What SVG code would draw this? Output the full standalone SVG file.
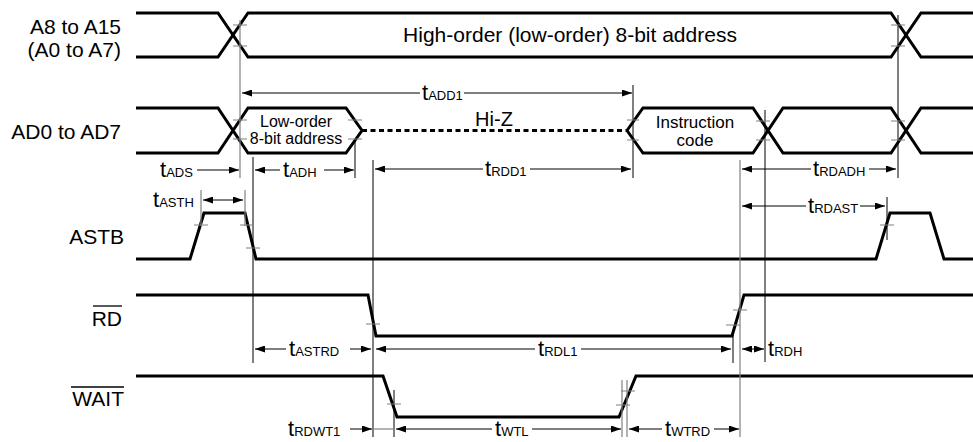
<svg xmlns="http://www.w3.org/2000/svg" width="973" height="442" viewBox="0 0 973 442">
<style>
text{font-family:"Liberation Sans",Arial,sans-serif;fill:#000}
.lbl{font-size:21px;text-anchor:end}
.wave{fill:none;stroke:#000;stroke-width:3;stroke-linejoin:miter}
.ref{stroke:#000;stroke-width:1;fill:none}
.refg{stroke:#808080;stroke-width:1.2;fill:none}
.tick{stroke:#808080;stroke-width:1.2;fill:none}
.dim{stroke:#000;stroke-width:1;fill:none;marker-end:url(#ah)}
.dim2{stroke:#000;stroke-width:1;fill:none;marker-end:url(#ah);marker-start:url(#ahs)}
.t{font-size:22px}
.s{font-size:13px}
</style>
<defs>
<marker id="ah" markerUnits="userSpaceOnUse" markerWidth="10" markerHeight="7" refX="10" refY="3.5" orient="auto"><path d="M0,0 L10,3.5 L0,7 z" fill="#000"/></marker>
<marker id="ahs" markerUnits="userSpaceOnUse" markerWidth="10" markerHeight="7" refX="10" refY="3.5" orient="auto-start-reverse"><path d="M0,0 L10,3.5 L0,7 z" fill="#000"/></marker>
</defs>

<g id="labels">
<text class="lbl" x="121" y="34">A8 to A15</text>
<text class="lbl" x="121" y="57">(A0 to A7)</text>
<text class="lbl" x="121" y="139">AD0 to AD7</text>
<text class="lbl" x="124" y="244">ASTB</text>
<text class="lbl" x="122" y="326">RD</text>
<line x1="93" y1="306" x2="122" y2="306" stroke="#000" stroke-width="1.3"/>
<text class="lbl" x="124" y="406">WAIT</text>
<line x1="71" y1="387" x2="124" y2="387" stroke="#000" stroke-width="1.3"/>
</g>

<g id="addr-high">
<path class="wave" d="M136,13 L218,13 L248,57 L891,57 L921,13 L973,13"/>
<path class="wave" d="M136,57 L218,57 L248,13 L891,13 L921,57 L973,57"/>
<text x="570" y="42" font-size="21" text-anchor="middle">High-order (low-order) 8-bit address</text>
</g>

<g id="ad-bus">
<path class="wave" d="M136,108 L218,108 L248,153 L346,153 L362,130.5 L346,108 L248,108 L218,153 L136,153"/>
<line x1="362" y1="130.5" x2="627" y2="130.5" stroke="#000" stroke-width="3" stroke-dasharray="5,3.5"/>
<path class="wave" d="M627,130.5 L643,108 L753,108 L783,153 L891,153 L921,108 L973,108"/>
<path class="wave" d="M627,130.5 L643,153 L753,153 L783,108 L891,108 L921,153 L973,153"/>
<text x="296" y="127" font-size="16" text-anchor="middle">Low-order</text>
<text x="296" y="144" font-size="16" text-anchor="middle">8-bit address</text>
<text x="494" y="126" font-size="20" text-anchor="middle">Hi-Z</text>
<text x="695" y="128" font-size="17" text-anchor="middle">Instruction</text>
<text x="695" y="146" font-size="17" text-anchor="middle">code</text>
</g>

<g id="astb">
<path class="wave" d="M136,259 L190,259 L204,213 L245,213 L256,259 L876,259 L890,213 L930,213 L944,259 L973,259"/>
</g>

<g id="rd">
<path class="wave" d="M136,295 L368,295 L376,336 L732,336 L744,295 L973,295"/>
</g>

<g id="wait">
<path class="wave" d="M136,376 L383,376 L397,417 L619,417 L636,376 L973,376"/>
</g>

<g id="connectors">
<line class="refg" x1="240" y1="20" x2="240" y2="178"/>
<line class="ref" x1="253" y1="157" x2="253" y2="363"/>
<line class="ref" x1="355" y1="140" x2="355" y2="178"/>
<line class="ref" x1="373" y1="160" x2="373" y2="437"/>
<line class="ref" x1="633" y1="85" x2="633" y2="178"/>
<line class="refg" x1="740" y1="160" x2="740" y2="437"/>
<line class="ref" x1="765" y1="110" x2="765" y2="362"/>
<line class="ref" x1="898" y1="15" x2="898" y2="178"/>
<line class="refg" x1="201" y1="190" x2="201" y2="226"/>
<line class="refg" x1="245" y1="190" x2="245" y2="226"/>
<line class="ref" x1="887" y1="197" x2="887" y2="240"/>
<line class="ref" x1="733" y1="333" x2="733" y2="363"/>
<line class="ref" x1="394" y1="390" x2="394" y2="437"/>
<line class="refg" x1="622" y1="380" x2="622" y2="437"/>
<line class="refg" x1="627" y1="380" x2="627" y2="437"/>
<path class="tick" d="M233,25 h14 M233,46 h14 M891,25 h14 M891,46 h14 M233,120 h14 M233,139 h14 M348,120 h14 M348,139 h14 M627,120 h12 M627,140 h12 M756,121 h14 M756,140 h14 M891,121 h14 M891,140 h14 M194,225 h14 M240,225 h14 M246,248 h14 M880,225 h14 M366,324 h14 M733,310 h14 M726,325 h14 M387,404 h14 M621,391 h14 M616,405 h14"/>
<line class="dim" x1="420" y1="93" x2="242" y2="93"/>
<line class="dim" x1="464" y1="93" x2="632" y2="93"/>
<text x="422" y="100"><tspan class="t">t</tspan><tspan class="s">ADD1</tspan></text>

<line class="dim" x1="197" y1="170" x2="239" y2="170"/>
<text x="160" y="177"><tspan class="t">t</tspan><tspan class="s">ADS</tspan></text>
<line class="dim" x1="280" y1="170" x2="255" y2="170"/>
<line class="dim" x1="324" y1="170" x2="354" y2="170"/>
<text x="283" y="177"><tspan class="t">t</tspan><tspan class="s">ADH</tspan></text>

<line class="dim" x1="483" y1="169" x2="375" y2="169"/>
<line class="dim" x1="530" y1="169" x2="631" y2="169"/>
<text x="485" y="176"><tspan class="t">t</tspan><tspan class="s">RDD1</tspan></text>

<line class="dim" x1="811" y1="169" x2="742" y2="169"/>
<line class="dim" x1="869" y1="169" x2="896" y2="169"/>
<text x="813" y="176"><tspan class="t">t</tspan><tspan class="s">RDADH</tspan></text>

<line class="dim2" x1="203" y1="200" x2="243" y2="200"/>
<text x="153" y="207"><tspan class="t">t</tspan><tspan class="s">ASTH</tspan></text>

<line class="dim" x1="806" y1="206" x2="742" y2="206"/>
<line class="dim" x1="860" y1="206" x2="885" y2="206"/>
<text x="808" y="213"><tspan class="t">t</tspan><tspan class="s">RDAST</tspan></text>

<line class="dim" x1="286" y1="349" x2="255" y2="349"/>
<line class="dim" x1="350" y1="349" x2="371" y2="349"/>
<text x="289" y="356"><tspan class="t">t</tspan><tspan class="s">ASTRD</tspan></text>

<line class="dim" x1="535" y1="349" x2="376" y2="349"/>
<line class="dim" x1="581" y1="349" x2="731" y2="349"/>
<text x="538" y="356"><tspan class="t">t</tspan><tspan class="s">RDL1</tspan></text>

<line class="dim2" x1="742" y1="349" x2="764" y2="349"/>
<text x="768" y="356"><tspan class="t">t</tspan><tspan class="s">RDH</tspan></text>

<line class="dim" x1="350" y1="429" x2="372" y2="429"/>
<line class="refg" x1="373" y1="429" x2="394" y2="429"/>
<text x="288" y="436"><tspan class="t">t</tspan><tspan class="s">RDWT1</tspan></text>

<line class="dim" x1="492" y1="429" x2="396" y2="429"/>
<line class="dim" x1="532" y1="429" x2="621" y2="429"/>
<text x="495" y="436"><tspan class="t">t</tspan><tspan class="s">WTL</tspan></text>

<line class="dim" x1="662" y1="429" x2="629" y2="429"/>
<line class="dim" x1="714" y1="429" x2="739" y2="429"/>
<text x="665" y="436"><tspan class="t">t</tspan><tspan class="s">WTRD</tspan></text>
</g>
</svg>
